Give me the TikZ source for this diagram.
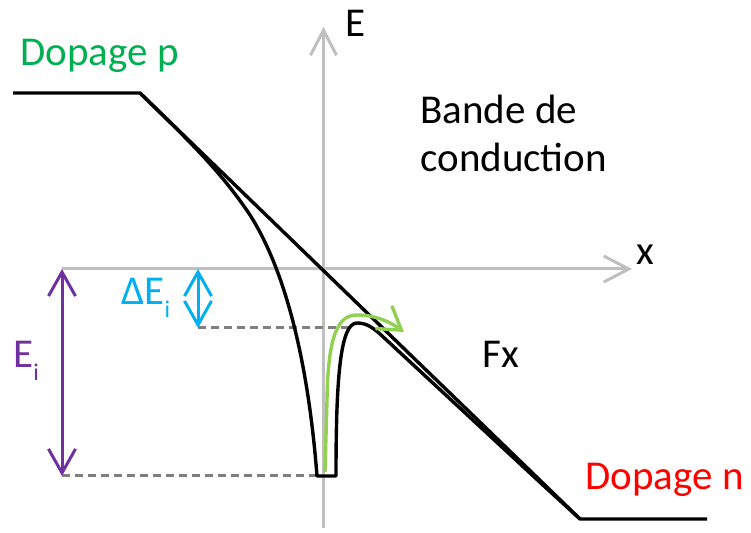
\documentclass[tikz,border=0pt]{standalone}
\usepackage{fontspec}
\setmainfont{Carlito}
\usetikzlibrary{arrows.meta}
\definecolor{axgray}{RGB}{191,191,191}
\definecolor{dgray}{RGB}{127,127,127}
\definecolor{pgreen}{RGB}{0,176,80}
\definecolor{lgreen}{RGB}{146,208,80}
\definecolor{purp}{RGB}{112,48,160}
\definecolor{cyanb}{RGB}{0,176,240}
\newcommand{\subi}{\raisebox{-0.3em}{\fontsize{12}{12}\selectfont i}}
\begin{document}
\begin{tikzpicture}[x=0.5pt,y=-0.5pt,
  lab/.style={inner sep=0pt,anchor=base west,font=\fontsize{20.5}{24}\selectfont},
  axis/.style={draw=axgray,line width=1.5pt,-{Straight Barb[length=12.5pt,width=13pt,line width=1.5pt]}},
  band/.style={draw=black,line width=1.7pt,line join=round},
  dsh/.style={draw=dgray,line width=1.5pt,dash pattern=on 4pt off 2.5pt},
  dbl/.style={line width=1.5pt,{Straight Barb[length=12pt,width=13.5pt,line width=1.5pt]}-{Straight Barb[length=12pt,width=13.5pt,line width=1.5pt]}}
]
\useasboundingbox (0,0) rectangle (751,533);
% coordinates
\coordinate (Ebot) at (323.5,528);
\coordinate (Etop) at (323.5,27);
\coordinate (xl) at (62,269);
\coordinate (xr) at (632,269);
\coordinate (pl) at (13,93);
\coordinate (pc) at (140,93);
\coordinate (nc) at (580,519);
\coordinate (nr) at (707,519);
\coordinate (wl) at (317,476);
\coordinate (wr) at (336,476);
\coordinate (pk) at (357,323);
\coordinate (jn) at (380,334);
\coordinate (mg) at (545,487);
\coordinate (EiT) at (62,269);
\coordinate (EiB) at (62,476);
\coordinate (dT) at (198,269);
\coordinate (dB) at (198,328);
\coordinate (dR) at (352,328);
\coordinate (gS) at (325,472);
\coordinate (gM) at (327,400);
\coordinate (gT) at (357,315);
\coordinate (gE) at (404,332);
% axes
\draw[axis] (Ebot) -- (Etop);
\draw[axis] (xl) -- (xr);
% dashed levels
\draw[dsh] (EiB) -- (wl);
\draw[dsh] (dB) -- (dR);
% bands
\draw[band] (pl) -- (pc) -- (nc) -- (nr);
\draw[band] (pc) .. controls (185,137) and (220,170) .. (250,215)
  .. controls (285,270) and (308,360) .. (wl) -- (wr)
  .. controls (336,380) and (340,323) .. (pk)
  .. controls (366,323) and (372,327) .. (jn) -- (mg) -- (nc);
% arrows
\draw[dbl,draw=purp] (EiT) -- (EiB);
\draw[dbl,draw=cyanb] (dT) -- (dB);
\draw[draw=lgreen,line width=1.7pt,-{Straight Barb[length=11pt,width=14pt,line width=1.7pt]}]
  (gS) -- (gM) .. controls (328,335) and (338,315) .. (gT)
  .. controls (378,315) and (393,324) .. (gE);
% labels
\node[lab,text=pgreen] (dp) at (20,66) {Dopage p};
\node[lab] (lE) at (345,37) {E};
\node[lab] (lx) at (636,265) {x};
\node[lab] (bd) at (420,124) {Bande de};
\node[lab] (cd) at (420,172) {conduction};
\node[lab] (fx) at (482,368) {Fx};
\node[lab,text=red] (dn) at (585,490) {Dopage n};
\node[lab,text=purp] (ei) at (13,368) {E\subi};
\node[lab,text=cyanb] (dei) at (121,305) {ΔE\subi};
\end{tikzpicture}
\end{document}
